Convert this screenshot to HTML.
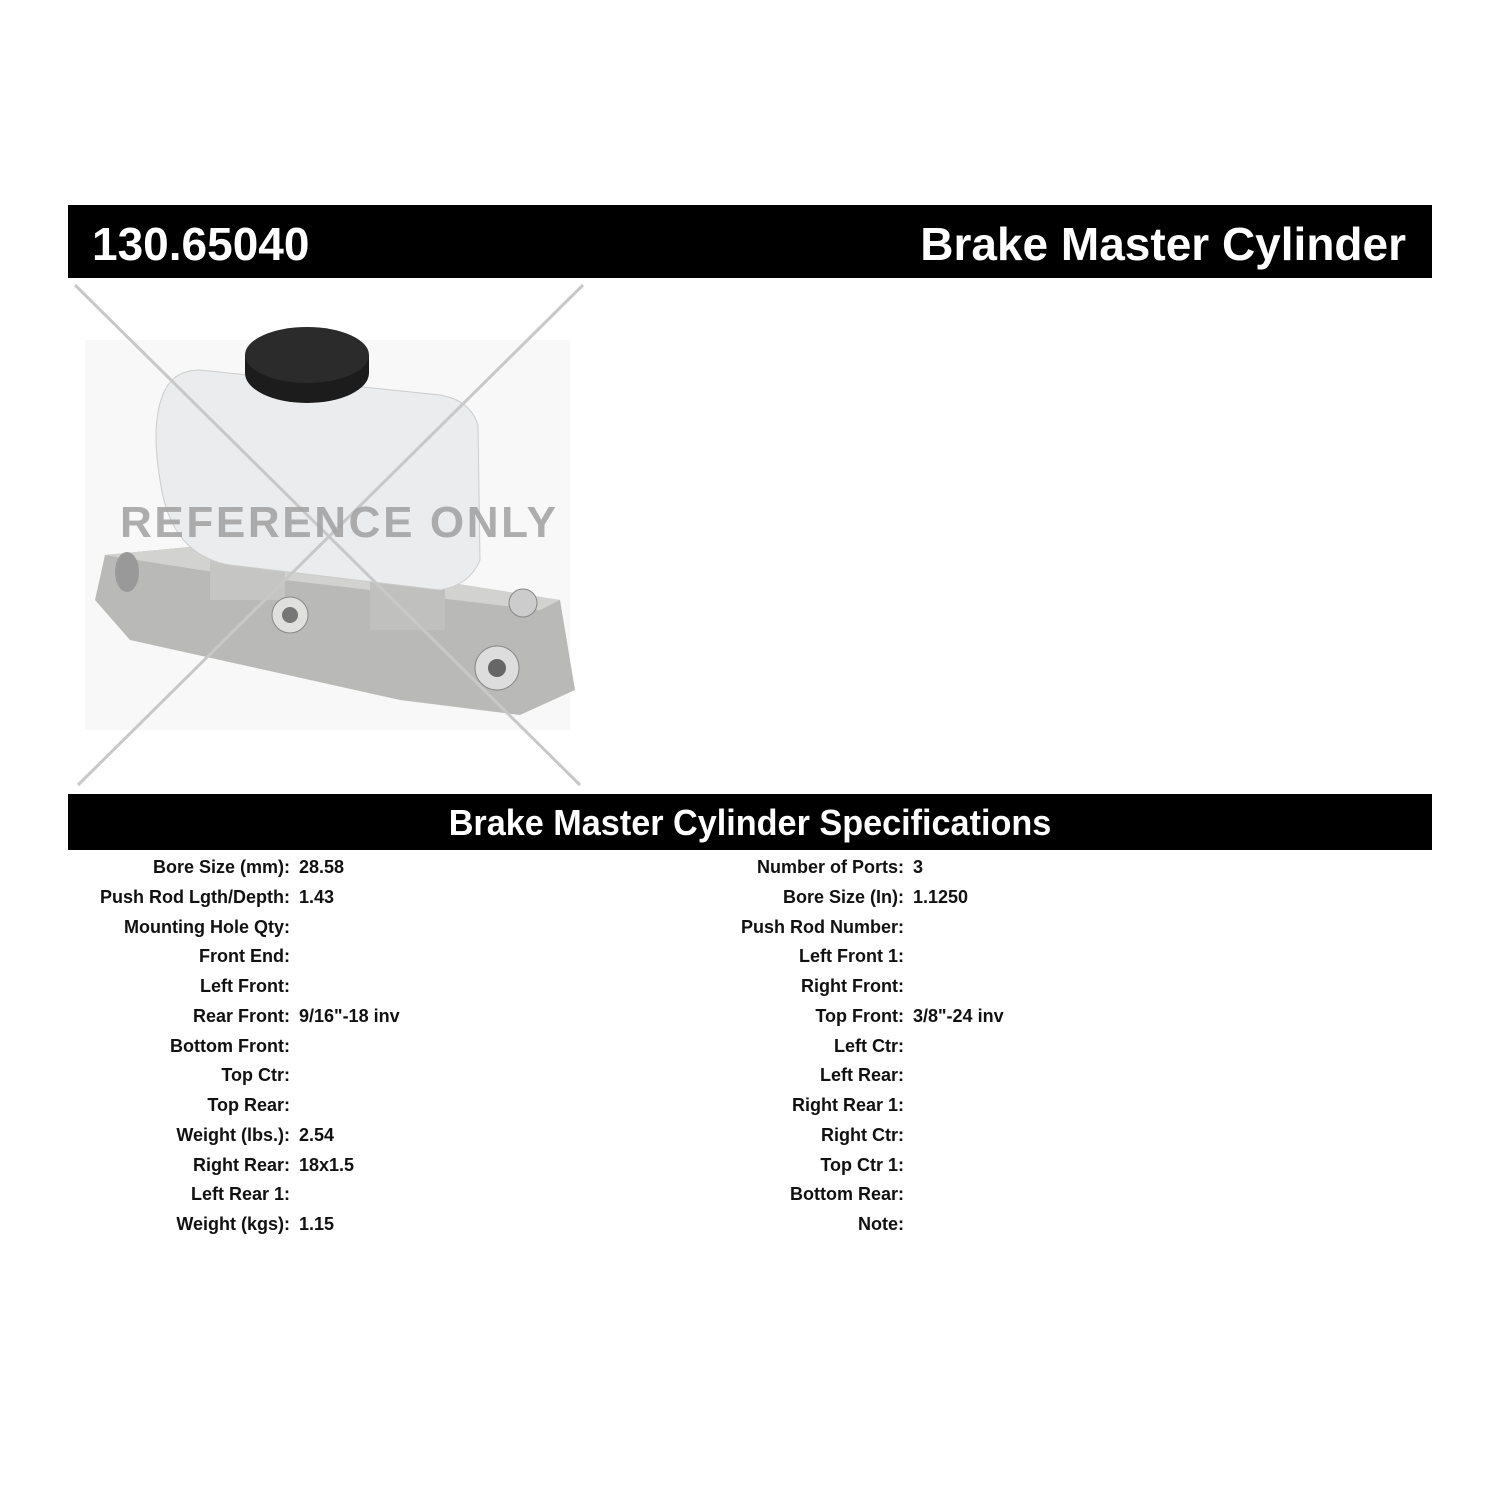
<!DOCTYPE html>
<html><head><meta charset="utf-8"><style>
body{margin:0;width:1500px;height:1500px;background:#fff;position:relative;font-family:"Liberation Sans",Arial,sans-serif;overflow:hidden}
.bar{position:absolute;left:68px;width:1364px;background:#000;color:#fff;font-weight:bold}
.row{position:absolute;font-weight:bold;font-size:18px;color:#111;white-space:nowrap}
.l{position:absolute;text-align:right;width:300px}
.v{position:absolute}
</style></head><body>
<div class="bar" style="top:205px;height:73px">
<div style="position:absolute;left:24px;top:12px;font-size:46px">130.65040</div>
<div style="position:absolute;right:26px;top:12px;font-size:46px">Brake Master Cylinder</div>
</div>
<svg style="position:absolute;left:0;top:0" width="700" height="800">
<rect x="85" y="340" width="485" height="390" fill="#f8f8f8"/>
<path d="M105,555 L210,545 L560,600 L575,690 L520,715 L400,700 L130,640 L95,600 Z" fill="#b9b9b7"/>
<path d="M105,555 L210,545 L560,600 L540,610 L200,570 Z" fill="#d2d2d0"/>
<rect x="210" y="540" width="75" height="60" fill="#c5c5c3"/>
<rect x="370" y="560" width="75" height="70" fill="#c0c0be"/>
<circle cx="290" cy="615" r="18" fill="#e0e0de" stroke="#888"/>
<circle cx="290" cy="615" r="8" fill="#777"/>
<circle cx="497" cy="668" r="22" fill="#ddd" stroke="#888"/>
<circle cx="497" cy="668" r="9" fill="#666"/>
<circle cx="523" cy="603" r="14" fill="#ccc" stroke="#888"/>
<ellipse cx="127" cy="572" rx="12" ry="20" fill="#999"/>
<path d="M165,390 Q150,420 160,480 Q170,555 230,565 L440,590 Q470,585 480,560 L478,425 Q470,400 440,395 L200,370 Q175,370 165,390 Z" fill="#eaeced" stroke="#ccc"/>
<ellipse cx="307" cy="373" rx="62" ry="30" fill="#1c1c1c"/>
<rect x="245" y="355" width="124" height="18" fill="#1c1c1c"/>
<ellipse cx="307" cy="355" rx="62" ry="28" fill="#2b2b2b"/>
<line x1="75" y1="285" x2="580" y2="785" stroke="#c8c8c8" stroke-width="3"/>
<line x1="583" y1="285" x2="78" y2="785" stroke="#c8c8c8" stroke-width="3"/>
<text x="120" y="537" font-family="Liberation Sans" font-weight="bold" font-size="44" fill="#a0a0a0" fill-opacity="0.85" textLength="436">REFERENCE ONLY</text>
</svg>
<div class="bar" style="top:794px;height:56px">
<div style="position:absolute;left:0;right:0;top:8px;text-align:center;font-size:36px;transform:scaleX(0.95)">Brake Master Cylinder Specifications</div>
</div>
<div id="specs"></div>
<script>
var L=[["Bore Size (mm):","28.58"],["Push Rod Lgth/Depth:","1.43"],["Mounting Hole Qty:",""],["Front End:",""],["Left Front:",""],["Rear Front:","9/16\"-18 inv"],["Bottom Front:",""],["Top Ctr:",""],["Top Rear:",""],["Weight (lbs.):","2.54"],["Right Rear:","18x1.5"],["Left Rear 1:",""],["Weight (kgs):","1.15"]];
var R=[["Number of Ports:","3"],["Bore Size (In):","1.1250"],["Push Rod Number:",""],["Left Front 1:",""],["Right Front:",""],["Top Front:","3/8\"-24 inv"],["Left Ctr:",""],["Left Rear:",""],["Right Rear 1:",""],["Right Ctr:",""],["Top Ctr 1:",""],["Bottom Rear:",""],["Note:",""]];
var h="";
for(var i=0;i<13;i++){var y=857+i*29.75;
h+='<div class="row l" style="left:-10px;top:'+y+'px">'+L[i][0]+'</div><div class="row v" style="left:299px;top:'+y+'px">'+L[i][1]+'</div>';
h+='<div class="row l" style="left:604px;top:'+y+'px">'+R[i][0]+'</div><div class="row v" style="left:913px;top:'+y+'px">'+R[i][1]+'</div>';}
document.getElementById("specs").innerHTML=h;
</script>
</body></html>
